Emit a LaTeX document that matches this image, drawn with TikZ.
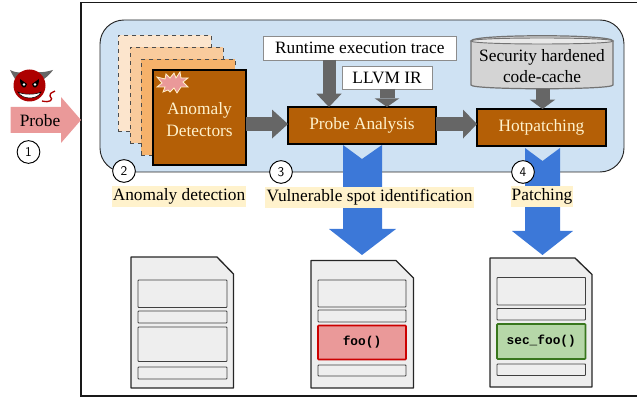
\documentclass[tikz,border=0pt]{standalone}
\usepackage{fontspec}
\setmainfont{Liberation Serif}
\setmonofont{Liberation Mono}
\usetikzlibrary{arrows.meta,shapes.geometric,calc}
\definecolor{panel}{HTML}{CFE2F3}
\definecolor{brownbox}{HTML}{B45F06}
\definecolor{garrow}{HTML}{666666}
\definecolor{barrow}{HTML}{3C78D8}
\definecolor{pinkc}{HTML}{EA9999}
\definecolor{hl}{HTML}{FFF2CC}
\definecolor{docfill}{HTML}{EEEEEE}
\definecolor{greenf}{HTML}{B6D7A8}
\definecolor{greend}{HTML}{38761D}
\definecolor{redd}{HTML}{CC0000}
\definecolor{laya}{HTML}{FCE5CD}
\definecolor{layb}{HTML}{F9CB9C}
\definecolor{layc}{HTML}{F6B26B}
\definecolor{boxtext}{HTML}{FFF2CC}
\tikzset{
  brown box/.style={draw=black,line width=0.8pt,fill=brownbox,text=boxtext,font=\fontsize{13}{16}\selectfont,align=center,inner sep=0pt,outer sep=0pt},
  white box/.style={draw=black!45,line width=0.7pt,fill=white,font=\fontsize{13}{15}\selectfont,inner sep=0pt,outer sep=0pt},
  layer/.style={draw=black!70,dashed,line width=0.7pt,inner sep=0pt},
  num/.style={circle,draw=black,line width=0.7pt,fill=white,minimum size=17pt,inner sep=0pt,font=\fontsize{10}{11}\sffamily\selectfont},
  tag/.style={fill=hl,inner sep=0pt,outer sep=0pt,font=\fontsize{13}{15}\selectfont},
  gray arrow/.style={draw=garrow,line width=#1*0.75pt},
  doc/.style={draw=black!85,line width=1pt,fill=docfill,line join=round},
  row/.style={draw=black!75,line width=0.7pt,fill=docfill,inner sep=0pt,outer sep=0pt,rounded corners=0.5pt},
  code/.style={font=\ttfamily\bfseries\fontsize{9.6}{11}\selectfont},
}
% box from pixel corners
\newcommand{\pbox}[6]{\node[#1,minimum width=#4*0.75pt-#2*0.75pt,minimum height=#5*0.75pt-#3*0.75pt,anchor=north west] (#6) at (#2,#3)}
% page with cut corner
\newcommand{\pdoc}[6]{\draw[doc] (#2,#3) -- (#5,#3) -- (#4,#6) -- (#4,#1) -- (#2,#1) -- cycle;}
\begin{document}
\begin{tikzpicture}[x=0.75pt,y=-0.75pt]
\useasboundingbox (0,0) rectangle (637,398);
% outer frame
\coordinate (ftr) at (637,2.5);
\coordinate (ftl) at (81,2.5);
\coordinate (fbl) at (81,396);
\coordinate (fbr) at (637,396);
\draw[line width=1pt,black!90] (ftr) -- (ftl) -- (fbl) -- (fbr);
% panel
\draw[fill=panel,draw=black!85,line width=0.7pt,rounded corners=18pt] (100,20) rectangle (624,172);
% detector stack
\pbox{layer,fill=laya}{118}{35}{211}{131}{la} {};
\pbox{layer,fill=layb}{130}{47}{223}{143}{lb} {};
\pbox{layer,fill=layc}{141}{59}{235}{155}{lc} {};
\pbox{brown box}{153}{70}{246}{165}{det} {};
\node[inner sep=0pt,align=center,text=boxtext,font=\fontsize{13}{16}\selectfont] (dettext) at (199.5,119.5) {Anomaly\\Detectors};
% burst
\fill[pinkc,draw=hl,line width=0.6pt] (157,77)--(165,79)--(166,74)--(170,78)--(174,73)--(176,78)--(180,72)--(181,78)--(188,78)--(183,82)--(188,87)--(181,87)--(177,93)--(174,88)--(170,92)--(168,90)--(163,92)--(165,87)--(157,87)--(162,83)--cycle;
% boxes
\pbox{brown box}{288}{107}{436}{144}{pa} {\raisebox{-1pt}{Probe Analysis}};
\pbox{brown box}{477}{109}{606}{146}{hot} {\raisebox{-1pt}{Hotpatching}};
\pbox{white box}{263.5}{36}{456}{60}{rt} {Runtime execution trace};
\pbox{white box}{342}{66}{432}{89}{ir} {LLVM IR};
% cylinder
\path[fill=black!17,draw=black!55,line width=0.9pt] (471,41) -- (471,85) .. controls (471,90) and (613,90) .. (613,85) -- (613,41) .. controls (613,34) and (471,34) .. (471,41) -- cycle;
\draw[black!55,line width=0.7pt,fill=black!9] (471,41) .. controls (471,37) and (613,37) .. (613,41) .. controls (613,45) and (471,45) .. (471,41) -- cycle;
\node[inner sep=0pt,align=center,font=\fontsize{13}{16}\selectfont] (cc) at (542,66) {Security hardened\\code-cache};
\coordinate (ccb) at (542.5,89);
% gray arrows
\draw[gray arrow=13,-{Triangle[width=19pt,length=10pt,line width=0pt]}] (rt.south -| pa.north) ++(-24.75pt,0) coordinate (rts) -- (rts |- pa.north);
\draw[gray arrow=15,-{Triangle[width=18.5pt,length=6.5pt,line width=0pt]}] (ir.south) -- (ir.south |- pa.north);
\draw[gray arrow=14,-{Triangle[width=19pt,length=7pt,line width=0pt]}] (ccb) -- (ccb |- hot.north);
\coordinate (ay) at ($(pa.west)+(0,1.1pt)$);
\draw[gray arrow=14,-{Triangle[width=21.75pt,length=12pt,line width=0pt]}] (det.east |- ay) -- (ay);
\coordinate (by) at ($(pa.east)+(0,1.1pt)$);
\draw[gray arrow=14,-{Triangle[width=21.75pt,length=10.5pt,line width=0pt]}] (by) -- (by -| hot.west);
% documents
\pdoc{388}{131}{257}{233.5}{217}{274}
\pbox{row}{138}{280}{227}{307.5}{a1} {};
\pbox{row}{138}{311}{227}{323}{a2} {};
\pbox{row}{138}{327}{227}{361.5}{a3} {};
\pbox{row}{138}{367}{227}{379}{a4} {};
\pdoc{388}{311}{260.5}{413.5}{396}{278}
\pbox{row}{318}{280}{406}{307}{b1} {};
\pbox{row}{318}{310}{406}{322}{b2} {};
\pbox{row,draw=redd,line width=1.2pt,fill=pinkc,code}{318}{325.5}{406}{359.5}{b3} {foo()};
\pbox{row}{318}{365}{406}{376}{b4} {};
\pdoc{387}{490}{258}{592}{575}{274.5}
\pbox{row}{497}{277.5}{585.5}{305}{c1} {};
\pbox{row}{497}{308.5}{585.5}{320}{c2} {};
\pbox{row,draw=greend,line width=1.2pt,fill=greenf,code}{497}{324}{585.5}{359}{c3} {sec\_foo()};
\pbox{row}{497}{364}{585.5}{375.5}{c4} {};
% blue arrows
\fill[barrow] (343,145) -- (362,159) -- (382,145) -- (382,229) -- (396,229) -- (362,255) -- (329,229) -- (343,229) -- cycle;
\fill[barrow] (525,148) -- (542.5,161) -- (560,148) -- (560,231) -- (573,231) -- (542.5,255) -- (512,231) -- (525,231) -- cycle;
% probe
\fill[pinkc] (10.5,107) -- (61,107) -- (61,97) -- (81,120) -- (61,143) -- (61,133) -- (10.5,133) -- cycle;
\node[inner sep=0pt,font=\fontsize{13}{15}\selectfont] (probe) at (40,121) {Probe};
% devil
\fill[black!60] (15,79) .. controls (12,74) and (11,72) .. (10,70) .. controls (14,72) and (18,73) .. (22,72) -- cycle;
\fill[black!60] (44,79) .. controls (48,76) and (51,73) .. (53,70) .. controls (49,71) and (42,73) .. (38,72) -- cycle;
\draw[redd!85!black,line width=1pt] (42,101) .. controls (50,103) and (54,100) .. (50,96) .. controls (49,94) and (51,93) .. (55,91);
\fill[redd!85!black] (29.5,85.5) circle[radius=16];
\fill[black] (20,79) -- (27,84) .. controls (26,90) and (20,89) .. (20,79) -- cycle;
\fill[black] (39,79) -- (32,84) .. controls (33,90) and (39,89) .. (39,79) -- cycle;
\fill[white] (24,84.5) circle[radius=1.4];
\fill[white] (35,84.5) circle[radius=1.4];
\fill[white,draw=black,line width=0.4pt] (18,92) .. controls (24,95) and (35,95) .. (41,92) .. controls (38,100) and (22,100) .. (18,92) -- cycle;
% numbers
\node[num] (n1) at (28.5,152) {1};
\node[num] (n2) at (124,171) {2};
\node[num] (n3) at (281,172) {3};
\node[num] (n4) at (523,172) {4};
% labels
\pbox{tag}{112}{186}{246}{207}{l2} {Anomaly detection};
\pbox{tag}{265}{187}{474}{208}{l3} {Vulnerable spot identification};
\pbox{tag}{511}{186}{573}{207}{l4} {Patching};
\end{tikzpicture}
\end{document}
